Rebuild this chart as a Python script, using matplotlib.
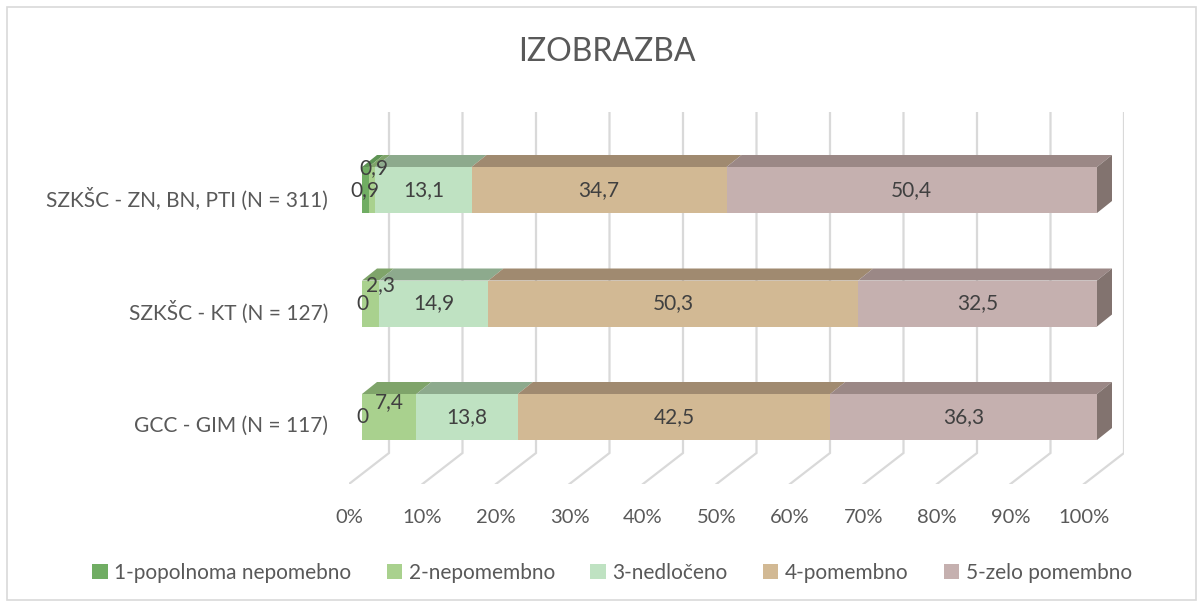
import matplotlib
matplotlib.use("Agg")
import matplotlib.pyplot as plt
from matplotlib.patches import Polygon, Rectangle, Patch
from matplotlib.transforms import ScaledTranslation

# DATOS
categorias = ["SZKŠC - ZN, BN, PTI (N = 311)", "SZKŠC - KT (N = 127)", "GCC - GIM (N = 117)"]
series = ["1-popolnoma nepomebno", "2-nepomembno", "3-nedločeno", "4-pomembno", "5-zelo pomembno"]
v1 = [0.9, 0, 0]
v2 = [0.9, 2.3, 7.4]
v3 = [13.1, 14.9, 13.8]
v4 = [34.7, 50.3, 42.5]
v5 = [50.4, 32.5, 36.3]
valores = [v1, v2, v3, v4, v5]
ticks = [0, 10, 20, 30, 40, 50, 60, 70, 80, 90, 100]

# ESTILO
frente = ["#70AD63", "#A9D18E", "#BFE2C2", "#D2B994", "#C5B0AF"]
arriba = ["#5F9455", "#7FA46A", "#8DAA8D", "#A08A70", "#9B8886"]
lado = "#82736F"
gris_texto = "#595959"
# desplazamiento (px) de etiquetas que se solapan: [serie][categoria]
despl = {(1, 0): (2, 22), (1, 1): (10, 18), (1, 2): (0, 15)}

plt.rcParams['font.family'] = ['Lato', 'DejaVu Sans']

fig = plt.figure(figsize=(12.03, 6.06), dpi=100)
W, H = 1203, 606
# ejes: de piso frontal (px 349, 484) a pared trasera (px 1124, 112)
# escala: 7.35 px por %, 113.5 px por categoria, frente 0% en px 362, primera barra en px 190
ax = fig.add_axes([349 / W, 1 - 484 / H, (1124 - 349) / W, (484 - 112) / H])
ax.set_xlim((349 - 362) / 7.35, (1124 - 362) / 7.35)
ax.set_ylim((484 - 190) / 113.5, (112 - 190) / 113.5)
ax.axis("off")


def px(x, y, dx, dy):
    """desplaza un punto de datos en pixeles (dy hacia arriba positivo)"""
    X, Y = ax.transData.transform((x, y))
    return ax.transData.inverted().transform((X + dx, Y + dy))


# cuadricula: pared trasera + piso
y_top, y_bot = ax.get_ylim()[1], ax.get_ylim()[0]
for t in ticks:
    a = px(t, y_top, 27, 0)
    b = px(t, y_bot, 27, 31)
    c = px(t, y_bot, -13, 0)
    ax.plot([a[0], b[0], c[0]], [a[1], b[1], c[1]], color="#D9D9D9", lw=1.6,
            zorder=1, solid_joinstyle="miter")
    ax.text(c[0], c[1], f"{t}%", ha="center", va="top", fontsize=14.5,
            color=gris_texto, transform=ax.transData + ScaledTranslation(0, -25 / 100, fig.dpi_scale_trans))

alto = 46 / 113.5
dxp, dyp = 15, 12
for j, cat in enumerate(categorias):
    izq = 0
    for i, vals in enumerate(valores):
        v = vals[j]
        top, bot = j - alto / 2, j + alto / 2
        ax.barh(j, v, left=izq, height=alto, color=frente[i], zorder=3, linewidth=0)
        p1 = px(izq, top, dxp, dyp)
        p2 = px(izq + v, top, dxp, dyp)
        ax.add_patch(Polygon([(izq, top), (izq + v, top), tuple(p2), tuple(p1)],
                             closed=True, facecolor=arriba[i], edgecolor="none", zorder=3))
        if i == len(valores) - 1:
            q1 = px(izq + v, top, dxp, dyp)
            q2 = px(izq + v, bot, dxp, dyp)
            ax.add_patch(Polygon([(izq + v, top), tuple(q1), tuple(q2), (izq + v, bot)],
                                 closed=True, facecolor=lado, edgecolor="none", zorder=3))
        etiqueta = f"{v:g}".replace(".", ",")
        ox, oy = despl.get((i, j), (0, 0))
        ax.annotate(etiqueta, (izq + v / 2, j), xytext=(ox * 0.72, oy * 0.72),
                    textcoords="offset points", ha="center", va="center",
                    fontsize=15, color="#404040", zorder=5)
        izq += v
    ax.text((349 - 362) / 7.35, j, cat, ha="right", va="center", fontsize=15, color=gris_texto,
            transform=ax.transData + ScaledTranslation(-21 / 100, -9 / 100, fig.dpi_scale_trans))

fig.text(607 / W, 1 - 52 / H, "IZOBRAZBA", ha="center", va="center", fontsize=23, color=gris_texto)

manijas = [Patch(facecolor=c, edgecolor="none") for c in frente]
fig.legend(manijas, series, loc="center", bbox_to_anchor=(612 / W, 1 - 573 / H), ncol=5,
           frameon=False, fontsize=15, labelcolor=gris_texto, handlelength=0.75,
           handleheight=0.75, handletextpad=0.3, columnspacing=1.7)

fig.add_artist(Rectangle((7 / W, 6 / H), 1189 / W, 593 / H, transform=fig.transFigure,
                         fill=False, edgecolor="#D9D9D9", lw=1.2))

fig.savefig("out.png", dpi=100)
